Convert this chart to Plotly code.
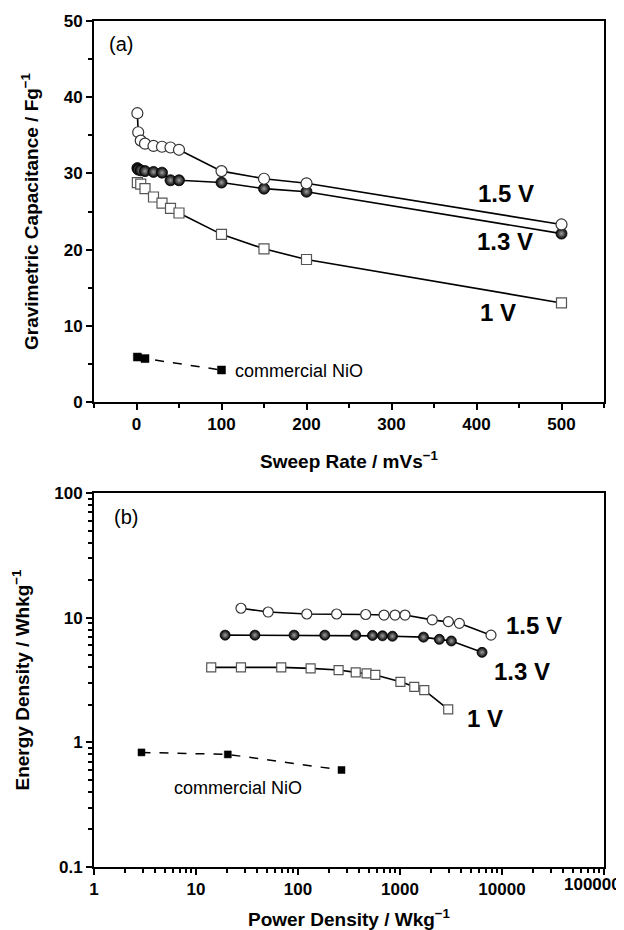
import math
import plotly.graph_objects as go

# ---------------- Panel (a) data ----------------
sweep_15 = [1, 2, 5, 10, 20, 30, 40, 50, 100, 150, 200, 500]
cap_15 = [37.9, 35.4, 34.3, 33.9, 33.6, 33.5, 33.4, 33.1, 30.3, 29.3, 28.7, 23.3]
sweep_13 = [1, 2, 5, 10, 20, 30, 40, 50, 100, 150, 200, 500]
cap_13 = [30.7, 30.5, 30.4, 30.3, 30.2, 30.1, 29.1, 29.1, 28.8, 28.0, 27.6, 22.1]
sweep_10 = [1, 5, 10, 20, 30, 40, 50, 100, 150, 200, 500]
cap_10 = [28.8, 28.6, 28.0, 26.9, 26.1, 25.4, 24.8, 22.0, 20.1, 18.7, 13.0]
sweep_nio = [1, 10, 100]
cap_nio = [5.9, 5.7, 4.2]

# ---------------- Panel (b) data ----------------
power_15 = [27.6, 51, 122, 239, 461, 697, 893, 1120, 2070, 2980, 3820, 7800]
energy_15 = [11.9, 11.1, 10.7, 10.7, 10.6, 10.5, 10.5, 10.5, 9.6, 9.3, 9.0, 7.24]
power_13 = [19.3, 37.8, 91.5, 183, 368, 537, 673, 843, 1700, 2430, 3190, 6370]
energy_13 = [7.24, 7.24, 7.24, 7.24, 7.24, 7.2, 7.15, 7.1, 6.98, 6.7, 6.5, 5.27]
power_10 = [14.1, 27.6, 68.5, 133, 250, 368, 470, 573, 1009, 1380, 1730, 2970]
energy_10 = [3.99, 3.99, 3.99, 3.92, 3.80, 3.64, 3.57, 3.47, 3.06, 2.79, 2.62, 1.84]
power_nio = [2.92, 20.5, 267]
energy_nio = [0.83, 0.80, 0.60]

# tick labels
power_ticks = [1, 10, 100, 1000, 10000, 100000]
power_ticklabels = ["1", "10", "100", "1000", "10000", "100000"]
energy_ticks = [0.1, 1, 10, 100]
energy_ticklabels = ["0.1", "1", "10", "100"]

FONT = "Liberation Sans, Arial, sans-serif"

fig = go.Figure()

def open_circle(x, y, xa, ya, size):
    return go.Scatter(x=x, y=y, xaxis=xa, yaxis=ya, mode="lines+markers",
                      line=dict(color="black", width=1.6),
                      marker=dict(symbol="circle", size=size, color="white",
                                  line=dict(color="#333", width=1.2)))

def sphere(x, y, xa, ya, size):
    return go.Scatter(x=x, y=y, xaxis=xa, yaxis=ya, mode="lines+markers",
                      line=dict(color="black", width=1.6),
                      marker=dict(symbol="circle", size=size, color="#000000",
                                  gradient=dict(type="radial", color="#a0a0a0"),
                                  line=dict(color="black", width=0.8)))

def open_square(x, y, xa, ya, size):
    return go.Scatter(x=x, y=y, xaxis=xa, yaxis=ya, mode="lines+markers",
                      line=dict(color="black", width=1.6),
                      marker=dict(symbol="square", size=size, color="white",
                                  line=dict(color="#555", width=1.2)))

def nio(x, y, xa, ya, size):
    return go.Scatter(x=x, y=y, xaxis=xa, yaxis=ya, mode="lines+markers",
                      line=dict(color="black", width=1.5, dash="dash"),
                      marker=dict(symbol="square", size=size, color="black",
                                  line=dict(color="black", width=0.5)))

# panel (a)
fig.add_trace(nio(sweep_nio, cap_nio, "x", "y", 8))
fig.add_trace(open_square(sweep_10, cap_10, "x", "y", 10))
fig.add_trace(sphere(sweep_13, cap_13, "x", "y", 11))
fig.add_trace(open_circle(sweep_15, cap_15, "x", "y", 11))
# panel (b)
fig.add_trace(nio(power_nio, energy_nio, "x2", "y2", 7))
fig.add_trace(open_square(power_10, energy_10, "x2", "y2", 9))
fig.add_trace(sphere(power_13, energy_13, "x2", "y2", 10))
fig.add_trace(open_circle(power_15, energy_15, "x2", "y2", 10))

tickfont = dict(family=FONT, size=17, color="black", weight="bold")
titlefont = dict(family=FONT, size=19, color="black", weight="bold")
common = dict(showline=True, linewidth=2, linecolor="black", mirror=True,
              ticks="outside", ticklen=6, tickwidth=2, tickcolor="black",
              showgrid=False, zeroline=False, tickfont=tickfont, automargin=False)
minor_lin = dict(ticks="outside", ticklen=4, tickwidth=2, tickcolor="black")

# page has an 8 px body margin; figure is sized to fill the rest of the window
OFF = 8
W, H = 624 - OFF, 930 - OFF
def px_x(p):
    return (p - OFF) / W
def px_y(p):
    return 1 - (p - OFF) / H

# last power label is drawn right-aligned at the window edge so it stays whole
axis_labels = power_ticklabels[:-1] + [""]

dom_x = [px_x(94), px_x(604)]
fig.update_layout(
    width=W, height=H,
    margin=dict(l=0, r=0, t=0, b=0, autoexpand=False),
    plot_bgcolor="white", paper_bgcolor="white",
    showlegend=False,
    font=dict(family=FONT, color="black"),
    xaxis=dict(domain=dom_x, anchor="y", range=[-50, 550], tick0=0, dtick=100,
               minor=dict(tick0=0, dtick=50, **minor_lin),
               title=dict(text="Sweep Rate / mVs<sup>−1</sup>", font=titlefont, standoff=21),
               **common),
    yaxis=dict(domain=[px_y(402), px_y(21)], anchor="x", range=[0, 50], tick0=0, dtick=10,
               minor=dict(tick0=0, dtick=5, **minor_lin),
               title=dict(text="Gravimetric Capacitance / Fg<sup>−1</sup>", font=titlefont, standoff=20),
               **common),
    xaxis2=dict(domain=dom_x, anchor="y2", type="log", range=[0, 5],
                tickmode="array", tickvals=power_ticks, ticktext=axis_labels,
                minor=dict(dtick="D1", **minor_lin),
                title=dict(text="Power Density / Wkg<sup>−1</sup>", font=titlefont, standoff=14),
                **common),
    yaxis2=dict(domain=[px_y(867), px_y(493)], anchor="x2", type="log", range=[-1, 2],
                tickmode="array", tickvals=energy_ticks, ticktext=energy_ticklabels,
                minor=dict(dtick="D1", **minor_lin),
                title=dict(text="Energy Density / Whkg<sup>−1</sup>", font=titlefont, standoff=20),
                **common),
)

lab = dict(family=FONT, size=24, color="black", weight="bold")
reg = dict(family=FONT, size=18, color="black")
paren = dict(family=FONT, size=20, color="black")
ann = [
    dict(x=-35, y=47, xref="x", yref="y", text="(a)", font=paren, xanchor="left"),
    dict(x=435, y=27.4, xref="x", yref="y", text="1.5 V", font=lab),
    dict(x=433, y=21.0, xref="x", yref="y", text="1.3 V", font=lab),
    dict(x=425, y=11.7, xref="x", yref="y", text="1 V", font=lab),
    dict(x=113, y=4.1, xref="x", yref="y", text="commercial NiO", font=reg, xanchor="left"),
    dict(x=0.173, y=1.809, xref="x2", yref="y2", text="(b)", font=paren, xanchor="left"),
    dict(x=4.31, y=math.log10(8.73), xref="x2", yref="y2", text="1.5 V", font=lab),
    dict(x=4.196, y=math.log10(3.68), xref="x2", yref="y2", text="1.3 V", font=lab),
    dict(x=3.833, y=math.log10(1.56), xref="x2", yref="y2", text="1 V", font=lab),
    dict(x=1.409, y=math.log10(0.43), xref="x2", yref="y2", text="commercial NiO", font=reg),
    dict(x=math.log10(power_ticks[-1]), y=px_y(867), xref="x2", yref="paper",
         text=power_ticklabels[-1], font=tickfont, xanchor="right", yanchor="top",
         xshift=19, yshift=-6),
]
for a in ann:
    a["showarrow"] = False
fig.update_layout(annotations=ann)

fig.write_html("out.html")
